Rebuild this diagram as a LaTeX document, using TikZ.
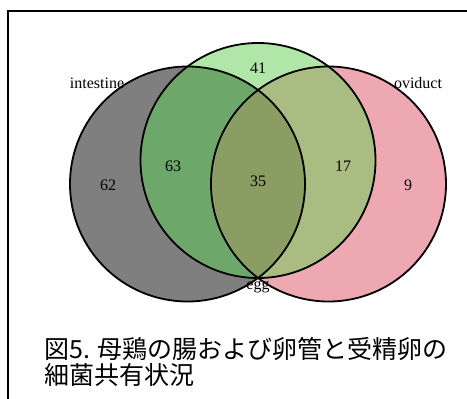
\documentclass[tikz,border=0pt]{standalone}
\usepackage{fontspec}
\setmainfont{Liberation Serif}
\newfontfamily\jpfont{Noto Sans CJK JP}
\definecolor{cgrey}{HTML}{7F7F7F}
\definecolor{cgreen}{HTML}{B0E6A8}
\definecolor{cpink}{HTML}{EDA8B2}
\definecolor{cgg}{HTML}{6EA76A}
\definecolor{cgp}{HTML}{A9BD82}
\definecolor{call}{HTML}{8A9D62}
\tikzset{
  lbl/.style={inner sep=0pt, font=\fontsize{16}{19}\selectfont},
  captxt/.style={inner sep=0pt, anchor=west, font=\jpfont\fontsize{25}{28}\selectfont},
  ring/.style={draw=black, line width=1.8pt}
}
\begin{document}
\begin{tikzpicture}[x=1pt, y=-1pt]
\useasboundingbox (0,0) rectangle (467,399);
\fill[white] (0,0) rectangle (467,399);
\coordinate (I) at (187.5,184);
\coordinate (E) at (258,160.5);
\coordinate (O) at (328.5,184);
\def\R{117.5}
% base fills
\fill[cgrey] (I) circle[radius=\R];
\fill[cpink] (O) circle[radius=\R];
\fill[cgreen] (E) circle[radius=\R];
\begin{scope}
  \clip (E) circle[radius=\R];
  \fill[cgg] (I) circle[radius=\R];
  \fill[cgp] (O) circle[radius=\R];
  \clip (I) circle[radius=\R];
  \fill[call] (O) circle[radius=\R];
\end{scope}
% outlines
\draw[ring] (I) circle[radius=\R];
\draw[ring] (O) circle[radius=\R];
\draw[ring] (E) circle[radius=\R];
% labels
\node[lbl] (lint) at (97,83) {intestine};
\node[lbl] (lovi) at (418,83) {oviduct};
\node[lbl] (legg) at (258,287) {egg};
\node[lbl] (n41) at (258,68) {41};
\node[lbl] (n63) at (173,166) {63};
\node[lbl] (n35) at (258,181) {35};
\node[lbl] (n17) at (343,166) {17};
\node[lbl] (n62) at (108,185) {62};
\node[lbl] (n9) at (408,185) {9};
% caption
\node[captxt] (c1) at (44,349) {図5. 母鶏の腸および卵管と受精卵の};
\node[captxt] (c2) at (44,375) {細菌共有状況};
% frame
\draw[line width=1.4pt] (467,11) -- (8,11) -- (8,399);
\end{tikzpicture}
\end{document}
